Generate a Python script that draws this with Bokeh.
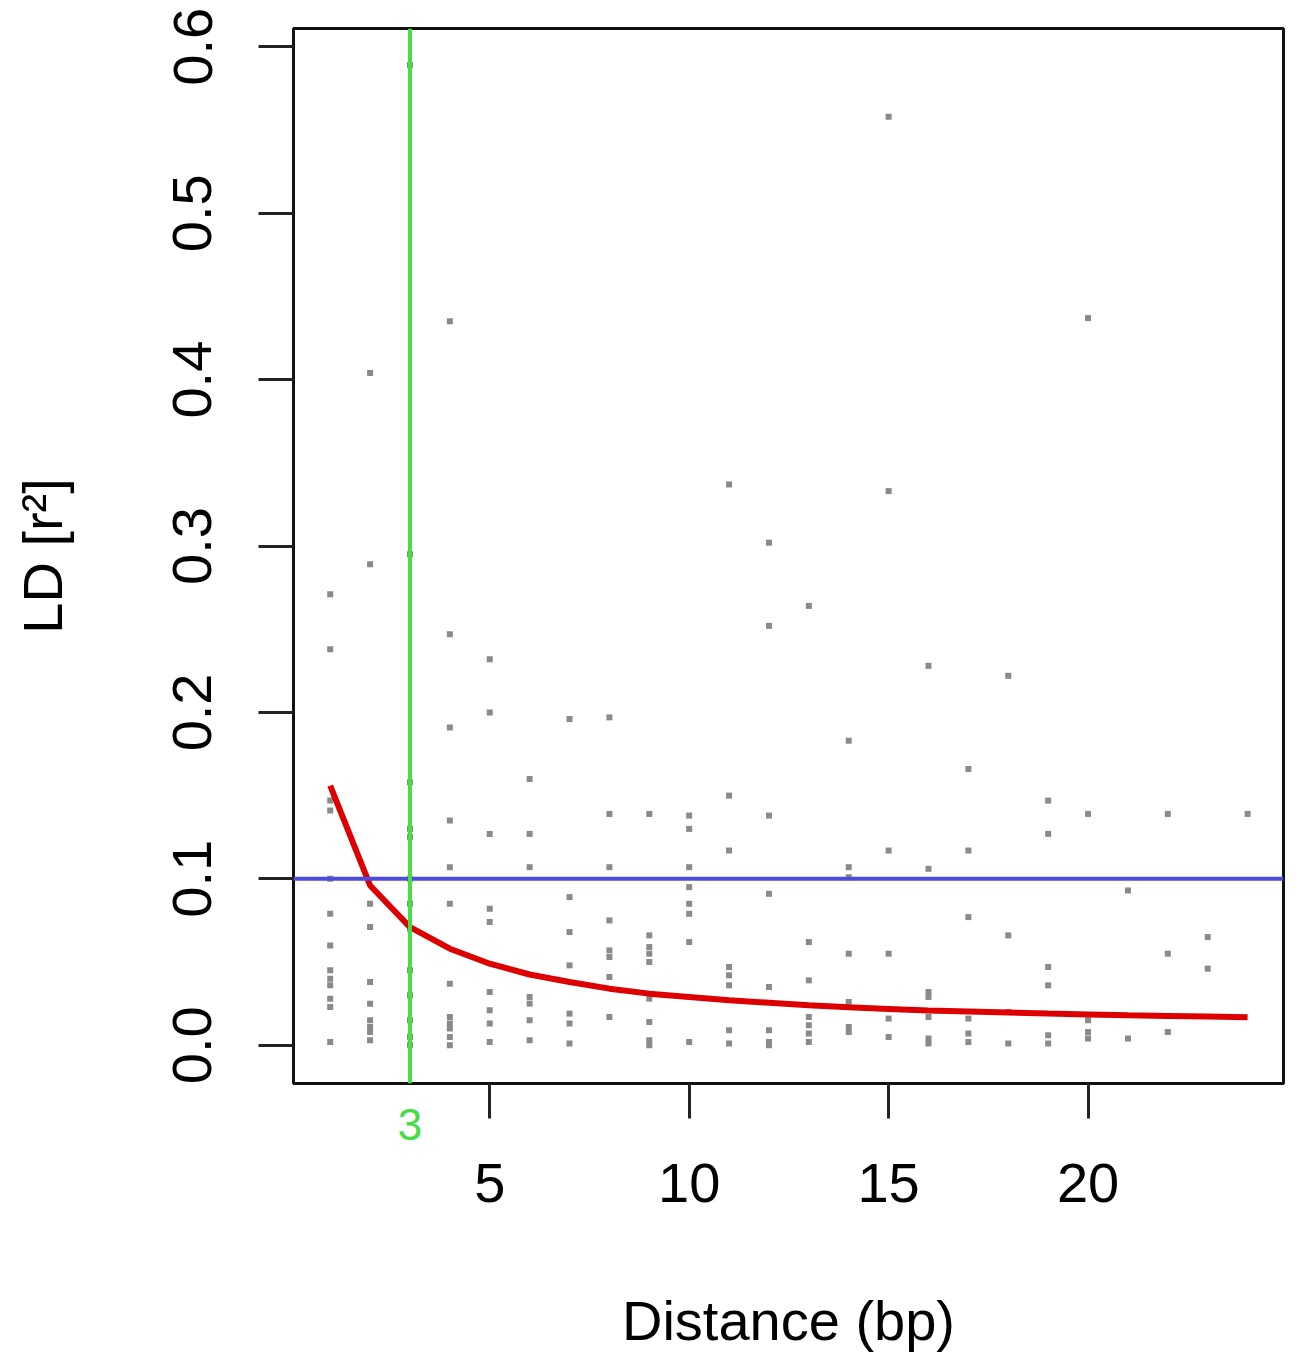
from bokeh.plotting import figure
from bokeh.models import Range1d, Span, FixedTicker, PrintfTickFormatter, LinearAxis
from bokeh.embed import file_html
from bokeh.resources import INLINE

# ---- data: pairwise LD (r^2) by marker distance (bp) ----
r2_d01 = [0.271, 0.238, 0.147, 0.141, 0.100, 0.079, 0.060, 0.045, 0.040, 0.036, 0.028, 0.023, 0.002]
r2_d02 = [0.404, 0.289, 0.085, 0.071, 0.038, 0.025, 0.015, 0.011, 0.008, 0.003]
r2_d03 = [0.589, 0.295, 0.158, 0.130, 0.125, 0.100, 0.085, 0.070, 0.045, 0.030, 0.015, 0.005, 0.0]
r2_d04 = [0.435, 0.247, 0.191, 0.135, 0.107, 0.085, 0.037, 0.017, 0.013, 0.010, 0.005, 0.0]
r2_d05 = [0.232, 0.200, 0.127, 0.082, 0.074, 0.032, 0.021, 0.013, 0.002]
r2_d06 = [0.160, 0.127, 0.107, 0.029, 0.025, 0.015, 0.003]
r2_d07 = [0.196, 0.089, 0.068, 0.048, 0.019, 0.013, 0.001]
r2_d08 = [0.197, 0.139, 0.107, 0.075, 0.057, 0.053, 0.041, 0.017]
r2_d09 = [0.139, 0.066, 0.059, 0.055, 0.050, 0.028, 0.014, 0.003, 0.0]
r2_d10 = [0.138, 0.130, 0.107, 0.095, 0.085, 0.079, 0.062, 0.002]
r2_d11 = [0.337, 0.150, 0.117, 0.047, 0.042, 0.036, 0.009, 0.001]
r2_d12 = [0.302, 0.252, 0.138, 0.091, 0.035, 0.009, 0.002, 0.0]
r2_d13 = [0.264, 0.062, 0.039, 0.017, 0.012, 0.007, 0.002]
r2_d14 = [0.183, 0.107, 0.101, 0.055, 0.026, 0.011, 0.008]
r2_d15 = [0.558, 0.333, 0.117, 0.055, 0.016, 0.005]
r2_d16 = [0.228, 0.106, 0.032, 0.029, 0.017, 0.004, 0.001]
r2_d17 = [0.166, 0.117, 0.077, 0.016, 0.007, 0.002]
r2_d18 = [0.222, 0.066, 0.020, 0.001]
r2_d19 = [0.147, 0.127, 0.047, 0.036, 0.006, 0.001]
r2_d20 = [0.437, 0.139, 0.015, 0.008, 0.004]
r2_d21 = [0.093, 0.004]
r2_d22 = [0.139, 0.055, 0.008]
r2_d23 = [0.065, 0.046]
r2_d24 = [0.139]

# fitted decay curve
curve_dist = [1, 2, 3, 4, 5, 6, 7, 8, 9, 10, 11, 12, 13, 14, 15, 16, 17, 18, 19, 20, 21, 22, 23, 24]
curve_r2 = [0.156, 0.096, 0.071, 0.058, 0.049, 0.0425, 0.038, 0.034, 0.031, 0.029, 0.027, 0.0255,
            0.024, 0.0228, 0.0218, 0.0208, 0.0202, 0.0196, 0.0190, 0.0185, 0.0180, 0.0176, 0.0172, 0.0168]

r2_threshold = 0.1
decay_distance = 3
x_ticks = [5, 10, 15, 20]
y_ticks = [0.0, 0.1, 0.2, 0.3, 0.4, 0.5, 0.6]

columns = [r2_d01, r2_d02, r2_d03, r2_d04, r2_d05, r2_d06, r2_d07, r2_d08, r2_d09, r2_d10,
           r2_d11, r2_d12, r2_d13, r2_d14, r2_d15, r2_d16, r2_d17, r2_d18, r2_d19, r2_d20,
           r2_d21, r2_d22, r2_d23, r2_d24]
pt_x, pt_y = [], []
for d, vals in zip(curve_dist, columns):
    pt_x += [d] * len(vals)
    pt_y += vals

FONT = "Liberation Sans"
GREEN = "#45de45"

p = figure(width=1293, height=1356,
           x_range=Range1d(0.08, 24.9), y_range=Range1d(-0.023, 0.611),
           output_backend="svg", toolbar_location=None,
           min_border_left=293, min_border_right=10, min_border_top=28, min_border_bottom=273)
p.background_fill_color = "white"
p.border_fill_color = "white"
p.outline_line_color = "#111111"
p.outline_line_width = 3
p.xgrid.visible = False
p.ygrid.visible = False

p.scatter(pt_x, pt_y, marker="square", size=6, fill_color="#8a8a8a", line_color=None)
p.line(curve_dist, curve_r2, line_color="#dd0000", line_width=6)

p.add_layout(Span(location=r2_threshold, dimension="width", line_color="#4b4bdc", line_width=4))
p.add_layout(Span(location=decay_distance, dimension="height", line_color=GREEN, line_width=4))

# inner x axis: tick marks at 5..20 (as minor ticks) and the green "3" label
xa = p.xaxis[0]
xa.ticker = FixedTicker(ticks=[decay_distance], minor_ticks=x_ticks)
xa.major_tick_out = 0
xa.major_tick_in = 0
xa.major_tick_line_color = None
xa.minor_tick_out = 35
xa.minor_tick_in = 0
xa.minor_tick_line_width = 3
xa.minor_tick_line_color = "#222222"
xa.axis_line_color = "#111111"
xa.axis_line_width = 3
xa.major_label_text_font = FONT
xa.major_label_text_font_size = "44px"
xa.major_label_text_color = GREEN
xa.major_label_standoff = -10

# outer x axis: numeric labels and title
xb = LinearAxis(ticker=FixedTicker(ticks=x_ticks))
xb.major_tick_out = 0
xb.major_tick_in = 0
xb.major_tick_line_color = None
xb.minor_tick_line_color = None
xb.axis_line_color = None
xb.major_label_text_font = FONT
xb.major_label_text_font_size = "56px"
xb.major_label_text_color = "black"
xb.major_label_standoff = 21
xb.axis_label = "Distance (bp)"
xb.axis_label_text_font = FONT
xb.axis_label_text_font_size = "56px"
xb.axis_label_text_font_style = "normal"
xb.axis_label_text_color = "black"
xb.axis_label_standoff = 84
p.add_layout(xb, "below")

# y axis
ya = p.yaxis[0]
ya.ticker = FixedTicker(ticks=y_ticks)
ya.formatter = PrintfTickFormatter(format="%.1f")
ya.major_tick_out = 35
ya.major_tick_in = 0
ya.minor_tick_line_color = None
ya.major_tick_line_width = 3
ya.major_tick_line_color = "#222222"
ya.axis_line_color = "#111111"
ya.axis_line_width = 3
ya.major_label_orientation = "vertical"
ya.major_label_text_font = FONT
ya.major_label_text_font_size = "56px"
ya.major_label_text_color = "black"
ya.major_label_standoff = 47
ya.axis_label = "LD [r²]"
ya.axis_label_text_font = FONT
ya.axis_label_text_font_size = "56px"
ya.axis_label_text_font_style = "normal"
ya.axis_label_text_color = "black"
ya.axis_label_standoff = 97

open("out.html", "w").write(file_html(p, INLINE))
